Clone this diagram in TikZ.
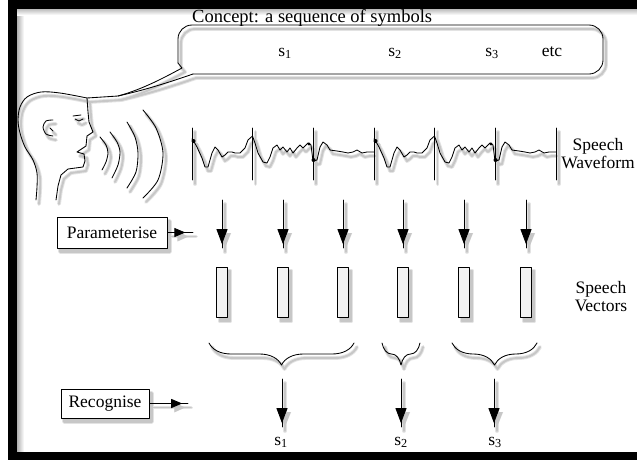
\documentclass[tikz,border=0pt]{standalone}
\usepackage{fontspec}
\setmainfont{Liberation Serif}
\usetikzlibrary{arrows.meta,decorations.pathreplacing,decorations.markings}

\newif\ifshadowpass
\newcommand\showtext[1]{\ifshadowpass\else#1\fi}
\newcommand\strokewd{0.85pt}
\colorlet{ink}{black}
\colorlet{paper}{white}
\colorlet{cell}{black!5}

\tikzset{
  ln/.style={draw=ink, line width=\strokewd, line join=round, line cap=round},
  txt/.style={text=ink, inner sep=0pt, font=\fontsize{17.5}{18}\selectfont},
  opbox/.style={ln, fill=paper, inner sep=0pt, txt},
  vec/.style={ln, fill=cell, minimum width=11pt, minimum height=50pt, inner sep=0pt},
  tipat/.style={ln, postaction={decorate}, decoration={markings,
      mark=at position #1 with {\arrow{Triangle[length=15pt,width=11pt]}}}},
  sidetip/.style={ln, postaction={decorate}, decoration={markings,
      mark=at position #1 with {\arrow{Triangle[length=11pt,width=9pt]}}}},
  curly/.style={ln, decorate, decoration={brace, amplitude=22pt}},
}

% Everything except the frame; drawn once per shadow layer and once in ink.
\newcommand\scene{%
  % speaker: back of the head and neck
  \draw[ln] plot[smooth, tension=0.55] coordinates {(87,98) (60,93) (41,92) (27,97)
      (20,107) (18,120) (20,133) (25,147) (33,160) (37,173) (37,187) (36,200)};
  % face profile
  \draw[ln] (87,98) -- (88,112) -- (89,122) -- (93,132) -- (87,136) -- (86,146)
      -- (77,152) -- (84,154) -- (85,161) -- (83,167) -- (68,169) -- (61,175)
      -- (58,186) -- (56,200);
  % ear and eye
  \draw[ln] plot[smooth] coordinates {(53,120) (46,121) (43,127) (46,134) (53,136)};
  \draw[ln] (50,128) -- (53,131);
  \draw[ln] (73,116) -- (81,115);
  \draw[ln] (75,119) -- (79,121) -- (83,119);
  % sound waves
  \draw[ln] plot[smooth] coordinates {(100,137) (106,145) (108,153) (106,162) (102,170)};
  \draw[ln] plot[smooth] coordinates {(110,132) (117,142) (120,152) (118,165) (112,178)};
  \draw[ln] plot[smooth] coordinates {(127,122) (135,137) (138,153) (136,172) (127,188)};
  \draw[ln] plot[smooth] coordinates {(143,110) (156,128) (163,153) (158,180) (143,198)};
  % thought bubble with its tail
  \draw[ln, rounded corners=14pt] (178,63) -- (178,25) -- (603,25) -- (603,74) -- (193,74);
  \draw[ln] (178,63) -- (182,68) .. controls (160,80) and (140,90) .. (118,96) -- (87,98);
  \draw[ln] (193,74) .. controls (170,82) and (145,90) .. (118,96);
  % speech waveform: two groups of three pitch periods
  \foreach \g in {192,374} {
    \begin{scope}[shift={(\g,0)}]
      \draw[ln] plot coordinates {(0,139) (1,140) (5,147) (10,158)
        (13,167) (16,167) (20,153) (23,147) (26,150) (30,157) (33,155) (36,152)
        (40,152) (43,153) (48,153) (53,148) (56,140) (60.5,136) (63,143) (66,153)
        (71,162) (75,163) (78,157) (81,148) (85,145) (88,150) (91,147) (95,152)
        (98,148) (101,153) (105,148) (108,145) (111,148) (116,143) (119,145)
        (121,161) (125,160) (128,147) (131,142) (135,145) (138,150) (145,151)
        (151,152) (156,153) (161,152) (165,150) (170,153) (175,152) (182,152)};
      \fill[ink] (1.5,141) circle (2);
      \fill[ink] (117,144) circle (1.6);
      \fill[ink] (121.5,160) circle (2);
    \end{scope}
  }
  \foreach \m in {192,252.5,313,374,434.5,495,556}
    \draw[ln] (\m,128) -- (\m,180);
  % parameterisation: arrows and speech vectors
  \node[opbox, minimum width=110pt, minimum height=31pt] (param) at (112,232.5)
      {\showtext{Parameterise}};
  \coordinate (pe) at (193,232.5);
  \draw[sidetip=0.7] (param.east) -- (pe);
  \foreach \x [count=\i] in {222,283,343,403,464,526} {
    \coordinate (pa\i) at (\x,200);
    \coordinate (pb\i) at (\x,248);
    \draw[tipat=0.92] (pa\i) -- (pb\i);
    \node[vec] (v\i) at (\x,292) {};
  }
  % grouping of vectors into symbols
  \draw[curly] (354,343) -- (209,343);
  \draw[curly] (420,343) -- (382,343);
  \draw[curly] (537,343) -- (452,343);
  % recognition
  \node[opbox, minimum width=88pt, minimum height=29pt] (recog) at (105,403.5)
      {\showtext{Recognise}};
  \coordinate (re) at (188,403.5);
  \draw[sidetip=0.85] (recog.east) -- (re);
  \foreach \x [count=\i] in {282,401,494} {
    \coordinate (ra\i) at (\x,379);
    \coordinate (rb\i) at (\x,427);
    \draw[tipat=0.92] (ra\i) -- (rb\i);
  }
  \ifshadowpass\else
    \node[txt, font=\fontsize{18.5}{20}\selectfont, anchor=base west] (title) at (192,22)
        {Concept: a sequence of symbols};
    \node[txt, anchor=base] (c1) at (285,56) {s\textsubscript{1}};
    \node[txt, anchor=base] (c2) at (395,56) {s\textsubscript{2}};
    \node[txt, anchor=base] (c3) at (492,56) {s\textsubscript{3}};
    \node[txt, anchor=base] (etc) at (552,56) {etc};
    \node[txt, align=center] (wavelbl) at (598,154) {Speech\\Waveform};
    \node[txt, align=center] (veclbl) at (601,297) {Speech\\Vectors};
    \node[txt, anchor=base] (o1) at (281,445) {s\textsubscript{1}};
    \node[txt, anchor=base] (o2) at (401,445) {s\textsubscript{2}};
    \node[txt, anchor=base] (o3) at (495,445) {s\textsubscript{3}};
  \fi
}

\begin{document}
\begin{tikzpicture}[x=1pt, y=-1pt]
  \useasboundingbox (0,0) rectangle (637,461);
  \clip (0,0) rectangle (637,461);
  \fill[white] (0,0) rectangle (637,461);
  % inner shading along the frame
  \shade[left color=black!35, right color=white] (16,8) rectangle (24,452);
  \shade[top color=black!30, bottom color=white] (16,8) rectangle (637,15);
  % soft drop shadow, two layers
  \begin{scope}[shift={(3,4)}]
    \shadowpasstrue
    \colorlet{ink}{black!11}\colorlet{paper}{black!11}\colorlet{cell}{black!11}
    \renewcommand\strokewd{3.8pt}
    \scene
  \end{scope}
  \begin{scope}[shift={(3,4)}]
    \shadowpasstrue
    \colorlet{ink}{black!22}\colorlet{paper}{black!22}\colorlet{cell}{black!22}
    \renewcommand\strokewd{1.9pt}
    \scene
  \end{scope}
  % the drawing itself
  \scene
  % black frame
  \fill[black] (8,0) rectangle (637,8.5);
  \fill[black] (8,0) rectangle (16.5,460);
  \fill[black] (8,452) rectangle (637,460);
\end{tikzpicture}
\end{document}
